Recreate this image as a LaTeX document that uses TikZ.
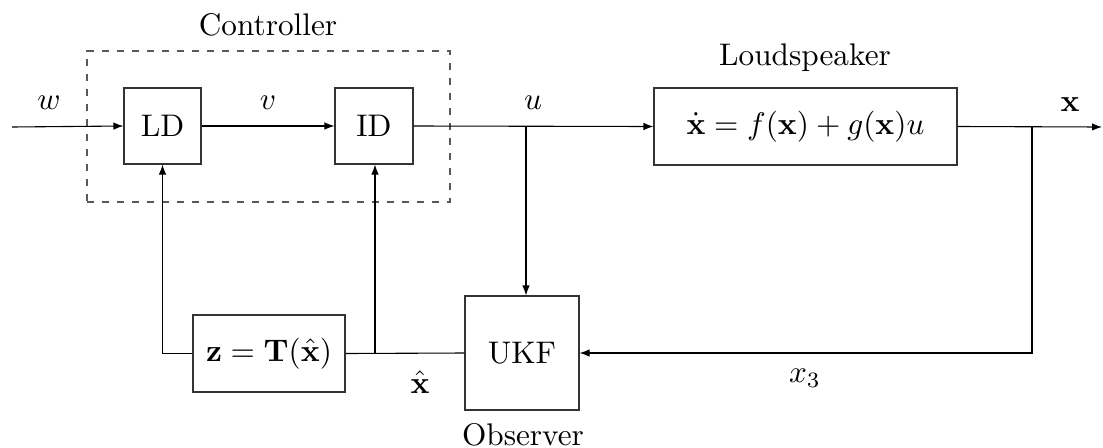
\documentclass[tikz,border=0pt]{standalone}
\usepackage{amsmath}
\usetikzlibrary{arrows.meta}
\begin{document}
\begin{tikzpicture}[x=0.32pt,y=-0.32pt,line width=0.35pt,
  blockbox/.style={draw=black!80,inner sep=0pt,anchor=center},
  lbl/.style={inner sep=0pt,anchor=center},
  sig/.style={-{Latex[length=3.2pt,width=2.4pt]}},
  frame/.style={draw=black!65,dash pattern=on 2.3pt off 2.5pt,inner sep=0pt}]
\useasboundingbox (0,0) rectangle (1103,447);
% blocks
\node[blockbox,minimum width=24.64pt,minimum height=24.32pt] (LD) at (162.5,126) {LD};
\node[blockbox,minimum width=24.96pt,minimum height=24.32pt] (ID) at (374,126) {ID};
\node[blockbox,minimum width=96.96pt,minimum height=24.64pt] (plant) at (805.5,126.5) {$\dot{\mathbf{x}} = f(\mathbf{x}) + g(\mathbf{x})u$};
\node[blockbox,minimum width=48.64pt,minimum height=24.64pt] (zT) at (269,353.5) {$\mathbf{z} = \mathbf{T}(\hat{\mathbf{x}})$};
\node[blockbox,minimum width=36.48pt,minimum height=36.48pt] (UKF) at (522,353) {UKF};
% controller frame
\node[frame,minimum width=116.16pt,minimum height=48.32pt] (ctrl) at (268.5,126.5) {};
% labels
\node[lbl] (lctrl) at (268,25) {Controller};
\node[lbl] (lplant) at (805,58) {Loudspeaker};
\node[lbl] (lobs) at (523,435) {Observer};
\node[lbl] (lw) at (49,103) {$w$};
\node[lbl] (lv) at (268,103) {$v$};
\node[lbl] (lu) at (533,103) {$u$};
\node[lbl] (lx) at (1070,105) {$\mathbf{x}$};
\node[lbl] (lxh) at (420,382) {$\hat{\mathbf{x}}$};
\node[lbl] (lx3) at (805,378) {$x_3$};
% coordinates
\coordinate (in) at (12,127);
\coordinate (out) at (1102,127);
\coordinate (ub) at (526,127);
\coordinate (xb) at (1032,127);
\coordinate (idb) at (375,353);
% connectors
\draw[sig] (in) -- (LD.west);
\draw[sig] (LD.east) -- (ID.west);
\draw[sig] (ID.east) -- (plant.west);
\draw[sig] (plant.east) -- (out);
\draw[sig] (ub) -- (ub |- UKF.north);
\draw[sig] (xb) -- (xb |- UKF.east) -- (UKF.east);
\draw (UKF.west) -- (zT.east);
\draw[sig] (zT.west) -- (LD.south |- zT.west) -- (LD.south);
\draw[sig] (idb) -- (idb |- ID.south);
\end{tikzpicture}
\end{document}
